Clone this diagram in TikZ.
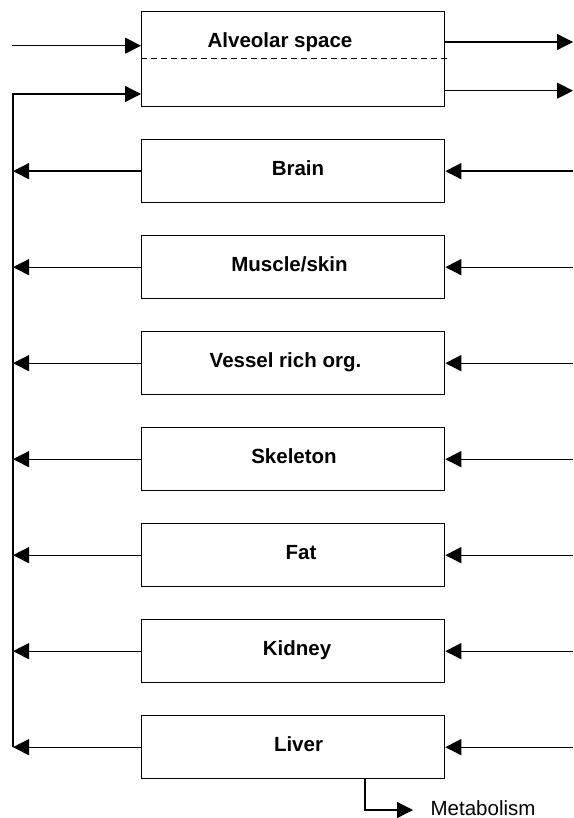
\documentclass[tikz,border=0pt]{standalone}
\usepackage{fontspec}
\setmainfont{Liberation Sans}
\usetikzlibrary{arrows.meta}
\begin{document}
\begin{tikzpicture}[x=1pt,y=-1pt,
  line width=1.3pt,
  box/.style={draw, line width=1.3pt, minimum width=303pt, minimum height=63pt, inner sep=0pt, anchor=north west},
  lbl/.style={font=\fontsize{20.5}{24}\selectfont\bfseries, anchor=base, inner sep=0pt},
  arr/.style={-{Triangle[length=16pt,width=16pt]}},
]
\useasboundingbox (0,0) rectangle (573,818);

\coordinate (L) at (13,0);
\coordinate (R) at (573,0);

% Alveolar space
\node[box, minimum height=95pt] (alv) at (141,11) {};
\node[lbl] (lalv) at (280,47.5) {Alveolar space};
\coordinate (dashend) at (447,58.5);
\draw[line width=1.2pt, dash pattern=on 6pt off 4pt] (alv.west |- dashend) -- (dashend);

% organ boxes
\node[box] (brain)    at (141,139) {};
\node[box] (muscle)   at (141,235) {};
\node[box] (vessel)   at (141,331) {};
\node[box] (skeleton) at (141,427) {};
\node[box] (fat)      at (141,523) {};
\node[box] (kidney)   at (141,619) {};
\node[box] (liver)    at (141,715) {};

\node[lbl] (lbrain)    at (298,175.5) {Brain};
\node[lbl] (lmuscle)   at (289.5,271.5) {Muscle/skin};
\node[lbl] (lvessel)   at (285.5,367.5) {Vessel rich org.};
\node[lbl] (lskeleton) at (294,463.5) {Skeleton};
\node[lbl] (lfat)      at (301,559.5) {Fat};
\node[lbl] (lkidney)   at (297,655.5) {Kidney};
\node[lbl] (lliver)    at (298.5,751.5) {Liver};

% inputs to alveolar space
\coordinate (inA) at (12,45.7);
\draw[arr] (inA) -- (inA -| alv.west);
\coordinate (inB) at (13,94);
\draw[arr] (L |- liver.west) -- (inB) -- (inB -| alv.west);

% outputs of alveolar space
\coordinate (outA) at (573,42);
\coordinate (outB) at (573,90.7);
\draw[arr] (outA -| alv.east) -- (outA);
\draw[arr] (outB -| alv.east) -- (outB);

% organ arrows
\foreach \n in {brain,muscle,vessel,skeleton,fat,kidney,liver}{
  \draw[arr] (\n.west) -- (L |- \n.west);
  \draw[arr] (R |- \n.east) -- (\n.east);
}

% metabolism
\coordinate (mcorner) at (365,810);
\coordinate (mtip) at (413,810);
\draw[arr] (liver.south -| mcorner) -- (mcorner) -- (mtip);
\node[font=\fontsize{20.5}{24}\selectfont, anchor=base west, inner sep=0pt] (meta) at (430,815) {Metabolism};
\end{tikzpicture}
\end{document}
